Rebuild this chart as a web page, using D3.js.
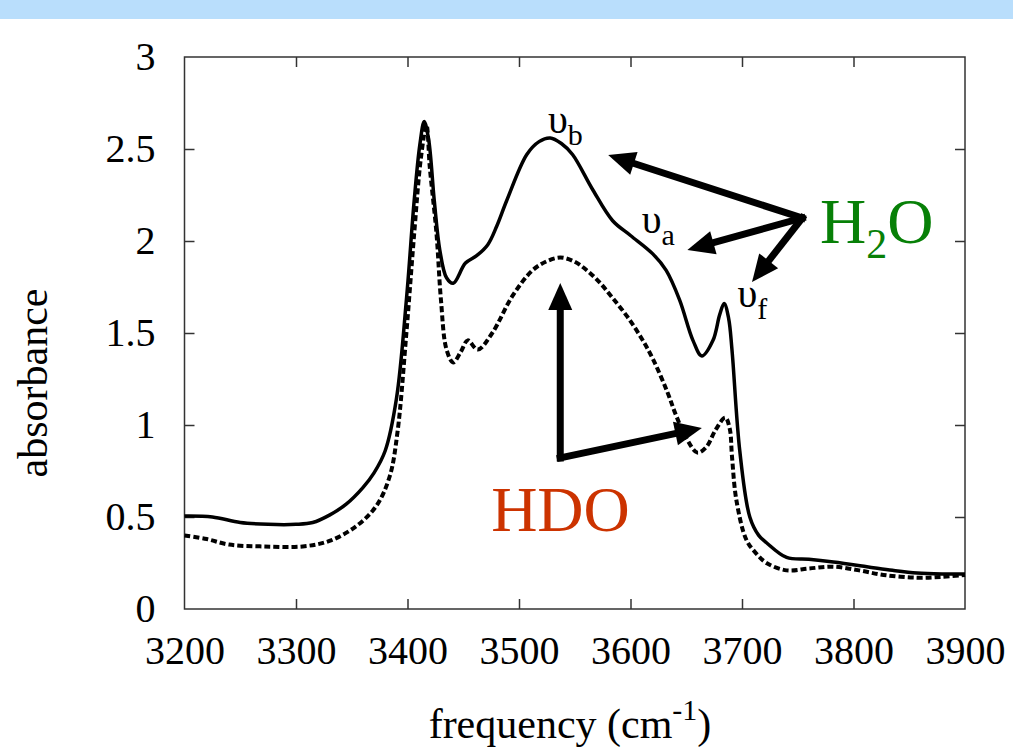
<!DOCTYPE html>
<html>
<head>
<meta charset="utf-8">
<script src="https://cdn.jsdelivr.net/npm/d3@7"></script>
<style>
  html, body { margin: 0; padding: 0; background: #fff; }
  svg, svg text { font-family: 'Liberation Serif', 'Times New Roman', Times, 'DejaVu Serif', serif; }
</style>
</head>
<body>
<div id="graph"></div>
<script>
// H2O spectrum (solid)
const h2oFreq = [3200, 3225, 3250, 3275, 3300, 3315, 3330, 3345, 3360, 3370, 3380, 3390, 3399, 3406, 3411, 3415,
  3419, 3424, 3429, 3435, 3441, 3452, 3462, 3472, 3480, 3489, 3507, 3518, 3528, 3538, 3548, 3566, 3584, 3600,
  3620, 3632, 3644, 3656, 3664, 3674, 3680, 3684, 3688, 3691, 3698, 3707, 3715, 3722, 3740, 3760, 3782, 3812,
  3835, 3857, 3880, 3900];
const h2oAbs = [0.505, 0.50, 0.47, 0.46, 0.46, 0.47, 0.51, 0.57, 0.66, 0.74, 0.86, 1.14, 1.68, 2.22, 2.52, 2.65,
  2.55, 2.22, 1.95, 1.80, 1.77, 1.88, 1.92, 1.98, 2.08, 2.22, 2.47, 2.54, 2.56, 2.53, 2.47, 2.28, 2.11, 2.03,
  1.93, 1.84, 1.68, 1.46, 1.375, 1.46, 1.60, 1.66, 1.58, 1.41, 0.86, 0.50, 0.40, 0.36, 0.28, 0.27, 0.255, 0.23,
  0.21, 0.195, 0.19, 0.19];

// HDO spectrum (dashed)
const hdoFreq = [3200, 3220, 3240, 3270, 3306, 3330, 3354, 3372, 3384, 3391, 3399, 3406, 3412, 3417, 3420, 3426,
  3430, 3435, 3441, 3448, 3454, 3463, 3476, 3494, 3512, 3525, 3537, 3549, 3561, 3573, 3584, 3597, 3610, 3620,
  3633, 3641, 3650, 3660, 3668, 3676, 3685, 3689, 3691, 3695, 3704, 3713, 3722, 3740, 3760, 3782, 3805, 3827,
  3857, 3880, 3900];
const hdoAbs = [0.40, 0.38, 0.35, 0.34, 0.34, 0.37, 0.45, 0.56, 0.72, 0.96, 1.50, 2.04, 2.45, 2.63, 2.40, 2.04,
  1.68, 1.41, 1.34, 1.40, 1.46, 1.41, 1.50, 1.70, 1.84, 1.89, 1.91, 1.89, 1.84, 1.77, 1.69, 1.59, 1.47, 1.36,
  1.18, 1.05, 0.93, 0.85, 0.88, 0.97, 1.04, 0.98, 0.83, 0.59, 0.375, 0.30, 0.25, 0.21, 0.22, 0.23, 0.21, 0.185,
  0.17, 0.175, 0.185];

const xTicks = [3200, 3300, 3400, 3500, 3600, 3700, 3800, 3900];
const yTicks = [0, 0.5, 1, 1.5, 2, 2.5, 3];

// annotation arrows [fromFreq, fromAbs, toFreq, toAbs]
const h2oArrows = [[3754, 2.125, 3580, 2.467], [3754, 2.125, 3651, 1.951], [3754, 2.125, 3709, 1.777]];
const hdoArrows = [[3537, 0.821, 3537, 1.772], [3537, 0.821, 3664, 0.984]];
// mode labels [freq, abs, subscript]
const modeLabels = [[3526, 2.587, 'b'], [3610, 2.043, 'a'], [3696, 1.641, 'f']];

const canvasWidth = 1013;
const canvasHeight = 747;
const plot = { left: 184.5, right: 965, top: 57, bottom: 609 };
const serif = "'Liberation Serif', 'Times New Roman', Times, 'DejaVu Serif', serif";

const svg = d3.select('#graph')
  .append('svg')
    .attr('width', canvasWidth)
    .attr('height', canvasHeight)
    .attr('font-family', serif);

// blue band at the top of the slide
svg.append('rect')
  .attr('x', 0).attr('y', 0)
  .attr('width', canvasWidth).attr('height', 19)
  .attr('fill', '#b9defc');

const scaleX = d3.scaleLinear().domain([3200, 3900]).range([plot.left, plot.right]);
const scaleY = d3.scaleLinear().domain([0, 3]).range([plot.bottom, plot.top]);

// axes, ticks pointing inward
svg.append('g')
  .attr('transform', `translate(0, ${plot.bottom})`)
  .call(d3.axisBottom(scaleX).tickValues(xTicks).tickSize(-10).tickPadding(27).tickFormat(d3.format('d')));
svg.append('g')
  .attr('transform', `translate(${plot.left}, 0)`)
  .call(d3.axisLeft(scaleY).tickValues(yTicks).tickSize(-10).tickPadding(29).tickFormat(d => String(d)));
svg.append('g')
  .attr('transform', `translate(0, ${plot.top})`)
  .call(d3.axisTop(scaleX).tickValues(xTicks).tickSize(-10).tickFormat(''));
svg.append('g')
  .attr('transform', `translate(${plot.right}, 0)`)
  .call(d3.axisRight(scaleY).tickValues(yTicks).tickSize(-10).tickFormat(''));

svg.selectAll('g').attr('font-family', serif);
svg.selectAll('.domain').remove();
svg.selectAll('.tick line').attr('stroke', '#333').attr('stroke-width', 1.5);
svg.selectAll('.tick text')
  .attr('font-size', 40)
  .attr('fill', '#000');
// edge tick marks sit on the frame
svg.selectAll('.tick').filter(d => d === 3200 || d === 3900 || d === 0 || d === 3).select('line').remove();

svg.append('rect')
  .attr('x', plot.left).attr('y', plot.top)
  .attr('width', plot.right - plot.left).attr('height', plot.bottom - plot.top)
  .attr('fill', 'none').attr('stroke', '#333').attr('stroke-width', 1.5);

// axis titles
svg.append('text')
  .attr('transform', 'translate(47, 383) rotate(-90)')
  .attr('text-anchor', 'middle')
  .attr('font-size', 42)
  .text('absorbance');

const xTitle = svg.append('text')
  .attr('x', 570).attr('y', 738)
  .attr('text-anchor', 'middle')
  .attr('font-size', 42);
xTitle.append('tspan').text('frequency (cm');
xTitle.append('tspan').attr('font-size', 30).attr('dy', -18).text('-1');
xTitle.append('tspan').attr('dy', 18).text(')');

// spectra
const line = (fs, as) => d3.line()
  .x(i => scaleX(fs[i]))
  .y(i => scaleY(as[i]))
  .curve(d3.curveCatmullRom.alpha(0.5))(d3.range(fs.length));

svg.append('path')
  .attr('d', line(hdoFreq, hdoAbs))
  .attr('fill', 'none').attr('stroke', '#000')
  .attr('stroke-width', 4).attr('stroke-dasharray', '6,3');

svg.append('path')
  .attr('d', line(h2oFreq, h2oAbs))
  .attr('fill', 'none').attr('stroke', '#000')
  .attr('stroke-width', 3.5);

// arrows
function arrow(g, d) {
  const x1 = scaleX(d[0]), y1 = scaleY(d[1]);
  const x2 = scaleX(d[2]), y2 = scaleY(d[3]);
  const len = Math.hypot(x2 - x1, y2 - y1);
  const ux = (x2 - x1) / len, uy = (y2 - y1) / len;
  const head = 27, half = 12;
  const bx = x2 - ux * head, by = y2 - uy * head;
  g.append('line')
    .attr('x1', x1).attr('y1', y1).attr('x2', bx + ux * 2).attr('y2', by + uy * 2)
    .attr('stroke', '#000').attr('stroke-width', 7)
    .attr('stroke-linecap', 'square');
  g.append('polygon')
    .attr('points', [[x2, y2], [bx - uy * half, by + ux * half], [bx + uy * half, by - ux * half]].join(' '))
    .attr('fill', '#000');
}
const arrows = svg.append('g');
h2oArrows.concat(hdoArrows).forEach(d => arrow(arrows, d));

// mode labels
modeLabels.forEach(d => {
  const t = svg.append('text')
    .attr('x', scaleX(d[0])).attr('y', scaleY(d[1]))
    .attr('font-size', 40);
  t.append('tspan').text('\u03C5');
  t.append('tspan').attr('font-size', 30).attr('dy', 12).text(d[2]);
});

// molecule labels
const h2o = svg.append('text')
  .attr('x', scaleX(3770)).attr('y', scaleY(1.99))
  .attr('font-size', 64).attr('fill', '#078007');
h2o.append('tspan').text('H');
h2o.append('tspan').attr('font-size', 42).attr('dy', 15).text('2');
h2o.append('tspan').attr('dy', -15).text('O');

svg.append('text')
  .attr('x', scaleX(3475)).attr('y', scaleY(0.424))
  .attr('font-size', 64).attr('fill', '#cc3300')
  .text('HDO');
</script>
</body>
</html>
